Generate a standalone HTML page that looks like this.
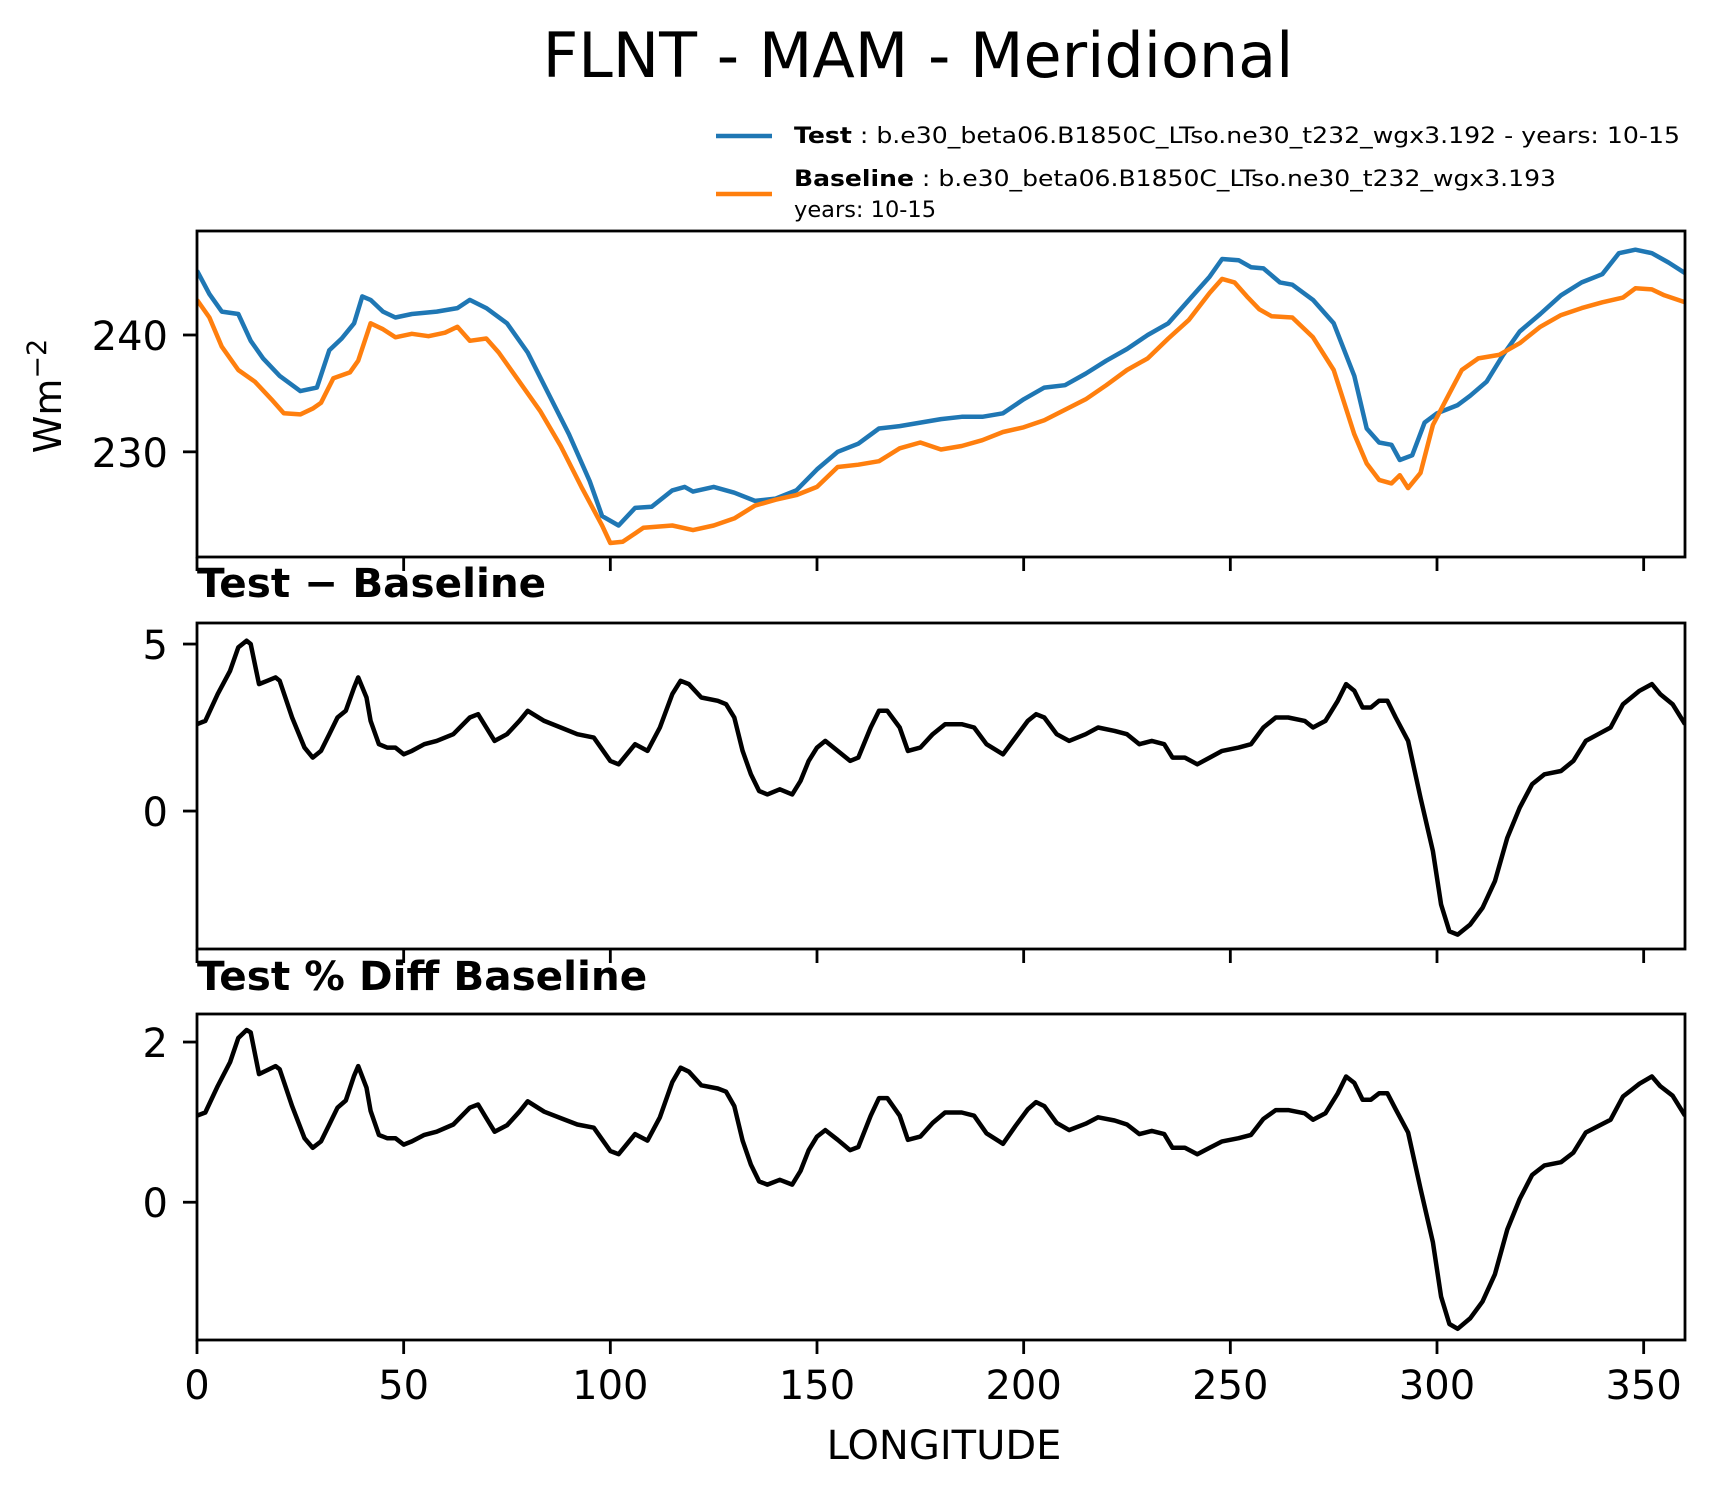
<!DOCTYPE html>
<html><head><meta charset="utf-8"><style>
body{margin:0;background:#fff}
svg{display:block;font-family:"DejaVu Sans","Liberation Sans",sans-serif}
</style></head><body>
<svg id="chart" width="1717" height="1496" viewBox="0 0 1717 1496" xmlns="http://www.w3.org/2000/svg">
<rect width="1717" height="1496" fill="#fff"/>
<text x="918" y="77" font-size="62" text-anchor="middle">FLNT - MAM - Meridional</text>
<g>
<line x1="716" y1="136" x2="772" y2="136" stroke="#1f77b4" stroke-width="4.5"/>
<text x="794" y="143" font-size="22.5" textLength="886" lengthAdjust="spacingAndGlyphs"><tspan font-weight="bold">Test</tspan> : b.e30_beta06.B1850C_LTso.ne30_t232_wgx3.192 - years: 10-15</text>
<line x1="716" y1="194" x2="772" y2="194" stroke="#ff7f0e" stroke-width="4.5"/>
<text x="794" y="186" font-size="22.5" textLength="762" lengthAdjust="spacingAndGlyphs"><tspan font-weight="bold">Baseline</tspan> : b.e30_beta06.B1850C_LTso.ne30_t232_wgx3.193</text>
<text x="794" y="217" font-size="22.5">years: 10-15</text>
</g>
<text transform="translate(61,396) rotate(-90)" font-size="38" text-anchor="middle">Wm<tspan dy="-15" font-size="27">−2</tspan></text>
<text x="197" y="597" font-size="40.5" font-weight="bold">Test − Baseline</text>
<text x="197" y="990" font-size="40.5" font-weight="bold">Test % Diff Baseline</text>
<text x="944" y="1459" font-size="40" text-anchor="middle">LONGITUDE</text>
<g id="plots"></g>
</svg>
<script>
const lonTest=[0,3,6,10,13,16,20,25,29,32,35,38,40,42,45,48,52,58,63,66,70,75,80,85,90,95,98,102,106,110,115,118,120,125,130,135,140,145,150,155,160,165,170,180,185,190,195,200,205,210,215,220,225,230,235,240,245,248,252,255,258,262,265,270,275,280,283,286,289,291,294,297,300,305,308,312,316,320,325,330,335,340,344,348,352,356,360];
const testVals=[245.5,243.5,242,241.8,239.5,238,236.5,235.2,235.5,238.7,239.7,241,243.3,243,242,241.5,241.8,242,242.3,243,242.3,241,238.5,235,231.5,227.5,224.5,223.7,225.2,225.3,226.7,227,226.6,227,226.5,225.8,226,226.7,228.5,230,230.7,232,232.2,232.8,233,233,233.3,234.5,235.5,235.7,236.7,237.8,238.8,240,241,243,245,246.5,246.4,245.8,245.7,244.5,244.3,243,241,236.5,232,230.8,230.6,229.3,229.7,232.5,233.3,234,234.8,236,238.3,240.3,241.8,243.4,244.5,245.2,247,247.3,247,246.2,245.3];
const lonBase=[0,3,6,10,14,18,21,25,28,30,33,37,39,42,45,48,52,56,60,63,66,70,73,78,83,88,93,98,100,103,108,115,120,125,130,135,140,145,150,155,160,165,170,175,180,185,190,195,200,205,210,215,220,225,230,235,240,245,248,251,254,257,260,265,270,275,280,283,286,289,291,293,296,299,303,306,310,315,320,325,330,335,340,345,348,352,355,360];
const baseVals=[243,241.5,239,237,236,234.5,233.3,233.2,233.7,234.2,236.3,236.8,237.8,241,240.5,239.8,240.1,239.9,240.2,240.7,239.5,239.7,238.5,236,233.5,230.5,227,223.7,222.2,222.3,223.5,223.7,223.3,223.7,224.3,225.4,225.9,226.3,227,228.7,228.9,229.2,230.3,230.8,230.2,230.5,231,231.7,232.1,232.7,233.6,234.5,235.7,237,238,239.7,241.3,243.6,244.8,244.5,243.3,242.2,241.6,241.5,239.8,237,231.5,229,227.6,227.3,228,226.9,228.2,232.3,235,237,238,238.3,239.3,240.7,241.7,242.3,242.8,243.2,244,243.9,243.4,242.8];
const lonDiff=[0,2,5,8,10,12,13,15,17,19,20,23,26,28,30,32,34,36,38,39,41,42,44,46,48,50,52,55,58,62,66,68,70,72,75,78,80,84,88,92,96,100,102,106,109,112,115,117,119,122,126,128,130,132,134,136,138,141,144,146,148,150,152,155,158,160,163,165,167,170,172,175,178,181,185,188,191,195,198,201,203,205,208,211,215,218,222,225,228,231,234,236,239,242,245,248,252,255,258,261,264,268,270,273,276,278,280,282,284,286,288,290,293,296,299,301,303,305,308,311,314,317,320,323,326,330,333,336,339,342,345,347,349,352,354,357,360];
const diffVals=[2.6,2.7,3.5,4.2,4.9,5.1,5.0,3.8,3.9,4.0,3.9,2.8,1.9,1.6,1.8,2.3,2.8,3.0,3.7,4.0,3.4,2.7,2.0,1.9,1.9,1.7,1.8,2.0,2.1,2.3,2.8,2.9,2.5,2.1,2.3,2.7,3.0,2.7,2.5,2.3,2.2,1.5,1.4,2.0,1.8,2.5,3.5,3.9,3.8,3.4,3.3,3.2,2.8,1.8,1.1,0.6,0.5,0.65,0.5,0.9,1.5,1.9,2.1,1.8,1.5,1.6,2.5,3.0,3.0,2.5,1.8,1.9,2.3,2.6,2.6,2.5,2.0,1.7,2.2,2.7,2.9,2.8,2.3,2.1,2.3,2.5,2.4,2.3,2.0,2.1,2.0,1.6,1.6,1.4,1.6,1.8,1.9,2.0,2.5,2.8,2.8,2.7,2.5,2.7,3.3,3.8,3.6,3.1,3.1,3.3,3.3,2.8,2.1,0.4,-1.2,-2.8,-3.6,-3.7,-3.4,-2.9,-2.1,-0.8,0.1,0.8,1.1,1.2,1.5,2.1,2.3,2.5,3.2,3.4,3.6,3.8,3.5,3.2,2.6];
const pctVals=[1.08,1.12,1.45,1.75,2.05,2.15,2.12,1.6,1.65,1.7,1.66,1.2,0.8,0.68,0.76,0.97,1.18,1.27,1.58,1.7,1.43,1.14,0.84,0.8,0.8,0.72,0.76,0.84,0.88,0.97,1.18,1.22,1.05,0.88,0.96,1.13,1.26,1.13,1.05,0.97,0.93,0.64,0.6,0.85,0.77,1.06,1.5,1.68,1.63,1.46,1.42,1.38,1.2,0.77,0.47,0.26,0.22,0.28,0.22,0.39,0.65,0.82,0.9,0.78,0.65,0.69,1.08,1.3,1.3,1.08,0.78,0.82,0.99,1.12,1.12,1.08,0.86,0.73,0.95,1.16,1.25,1.2,0.99,0.9,0.98,1.06,1.02,0.97,0.85,0.89,0.85,0.68,0.68,0.6,0.68,0.76,0.8,0.84,1.04,1.15,1.15,1.11,1.03,1.11,1.36,1.57,1.49,1.28,1.28,1.36,1.36,1.16,0.87,0.17,-0.5,-1.18,-1.52,-1.58,-1.45,-1.24,-0.9,-0.34,0.04,0.34,0.46,0.5,0.62,0.87,0.95,1.03,1.32,1.4,1.48,1.57,1.45,1.33,1.08];
const xTicks=[0,50,100,150,200,250,300,350];
const topTicks=[230,240];
const diffTicks=[0,5];
const pctTicks=[0,2];

const NS='http://www.w3.org/2000/svg';
const root=document.getElementById('plots');
const X0=197,X1=1685;
function xs(v){return X0+(v/360)*(X1-X0);}
function mk(tag,attrs,parent){const e=document.createElementNS(NS,tag);for(const k in attrs)e.setAttribute(k,attrs[k]);(parent||root).appendChild(e);return e;}
function panel(name,top,bot,ymin,ymax,yt,series,xlabels){
  const g=mk('g',{});
  
  
  const ys=v=>bot-(v-ymin)/(ymax-ymin)*(bot-top);
  const clipId='clip-'+name;
  const cp=mk('clipPath',{id:clipId},g);
  mk('rect',{x:X0,y:top,width:X1-X0,height:bot-top},cp);
  series.forEach(s=>{
    let d='';
    s.x.forEach((v,i)=>{d+=(i?'L':'M')+xs(v).toFixed(1)+','+ys(s.y[i]).toFixed(1);});
    const p=mk('path',{d:d,fill:'none',stroke:s.c,'stroke-width':4.5,'stroke-linejoin':'round','clip-path':'url(#'+clipId+')'},g);
    
    
  });
  const fr=mk('rect',{x:X0,y:top,width:X1-X0,height:bot-top,fill:'none',stroke:'#000','stroke-width':2.8},g);
  
  
  yt.forEach(t=>{
    const y=ys(t);
    mk('line',{x1:X0-14,x2:X0,y1:y,y2:y,stroke:'#000','stroke-width':2.8},g);
    const tx=mk('text',{x:X0-29,y:y+15,'font-size':40,'text-anchor':'end'},g);
    tx.textContent=t;
    
    
  });
  xTicks.forEach(t=>{
    const x=xs(t);
    mk('line',{x1:x,x2:x,y1:bot,y2:bot+14,stroke:'#000','stroke-width':2.8},g);
    if(xlabels){
      const tx=mk('text',{x:x,y:bot+59,'font-size':40,'text-anchor':'middle'},g);
      tx.textContent=t;
      
      
    }
  });
}
panel('top',231,557,221.0,248.9,topTicks,[{x:lonTest,y:testVals,c:'#1f77b4',n:'test-line'},{x:lonBase,y:baseVals,c:'#ff7f0e',n:'baseline-line'}],false);
panel('diff',623,949,-4.13,5.63,diffTicks,[{x:lonDiff,y:diffVals,c:'#000',n:'diff-line'}],false);
panel('pct',1014,1340,-1.72,2.35,pctTicks,[{x:lonDiff,y:pctVals,c:'#000',n:'pct-diff-line'}],true);
</script>
</body></html>
